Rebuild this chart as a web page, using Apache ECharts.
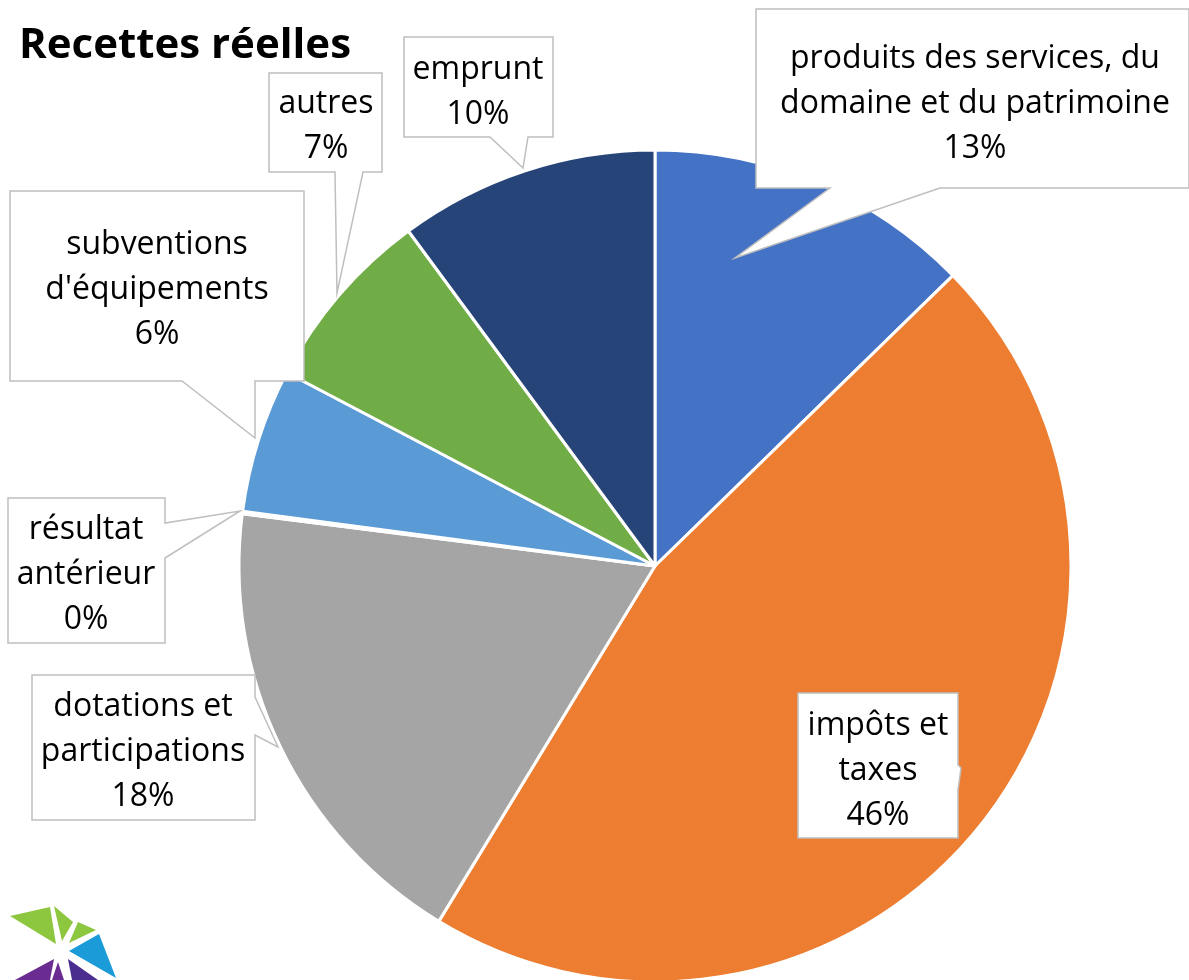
<!DOCTYPE html>
<html><head><meta charset="utf-8">
<script src="https://cdn.jsdelivr.net/npm/echarts@6/dist/echarts.min.js"></script>
<style>html,body{margin:0;padding:0;background:#fff}#c{width:1189px;height:980px}</style>
</head><body><div id="c"></div>
<script>
// ---- data ----
const categories = [
  'produits des services, du\ndomaine et du patrimoine',
  'impôts et\ntaxes',
  'dotations et\nparticipations',
  'résultat\nantérieur',
  'subventions\nd\'équipements',
  'autres',
  'emprunt'
];
const shares = [12.7, 46.0, 18.3, 0.1, 5.6, 7.2, 10.1];
const colors = ['#4472C4', '#ED7D31', '#A5A5A5', '#FFC000', '#5B9BD5', '#70AD47', '#264478'];
const titleText = 'Recettes réelles';

// ---- layout (label anchors and callout shapes) ----
const labelPos = [
  [975, 104], [878, 771], [143, 752], [86, 575], [157, 290], [326, 126], [478, 92]
];
const callouts = [
  [[756,9],[1189,9],[1189,188],[940,188],[735,258],[830,188],[756,188]],
  [[798,693],[958,693],[958,765],[961,768],[958,790],[958,838],[798,838]],
  [[32,675],[255,675],[255,697],[278,747],[255,735],[255,820],[32,820]],
  [[8,498],[165,498],[165,523],[240,511],[165,558],[165,643],[8,643]],
  [[10,191],[304,191],[304,381],[255,381],[255,438],[182,381],[10,381]],
  [[269,73],[382,73],[382,172],[363,172],[337,293],[335,172],[269,172]],
  [[404,37],[553,37],[553,137],[528,137],[523,168],[490,137],[404,137]]
];
const logo = [
  {p:[[10,916],[50,907],[56,944]], c:'#8DC63F'},
  {p:[[54,906],[73,922],[62,941]], c:'#8DC63F'},
  {p:[[78,922],[96,930],[69,943]], c:'#8DC63F'},
  {p:[[99,934],[116,978],[69,951]], c:'#1B9BD7'},
  {p:[[15,980],[54,959],[50,980]], c:'#6A2C91'},
  {p:[[58,962],[64,980],[52,980]], c:'#6A2C91'},
  {p:[[68,959],[98,980],[72,980]], c:'#4B2D8F'}
];

const pieData = categories.map((n, i) => ({ name: n, value: shares[i], itemStyle: { color: colors[i] } }));
const font = 'Open Sans, Liberation Sans, sans-serif';

const graphics = [];
callouts.forEach(pts => graphics.push({
  type: 'polygon', z: 3, shape: { points: pts },
  style: { fill: '#fff', stroke: '#BFBFBF', lineWidth: 1.5 }
}));
logo.forEach(l => graphics.push({ type: 'polygon', z: 3, shape: { points: l.p }, style: { fill: l.c } }));
graphics.push({
  type: 'text', z: 5, left: 19, top: 25,
  style: { text: titleText, font: 'bold 42px ' + font, fill: '#000' }
});

const chart = echarts.init(document.getElementById('c'), null, { renderer: 'canvas' });
chart.setOption({
  backgroundColor: '#fff',
  animation: false,
  graphic: graphics,
  series: [
    {
      type: 'pie', z: 2, center: [655, 566], radius: 416, startAngle: 90, clockwise: true,
      avoidLabelOverlap: false, silent: true,
      itemStyle: { borderColor: '#fff', borderWidth: 3 },
      label: { show: false }, labelLine: { show: false },
      data: pieData
    },
    {
      type: 'pie', z: 4, center: [655, 566], radius: 416, startAngle: 90, clockwise: true,
      avoidLabelOverlap: false, silent: true,
      itemStyle: { color: 'rgba(0,0,0,0)', borderWidth: 0 },
      label: {
        show: true, position: 'outside', color: '#000', fontSize: 32, lineHeight: 45,
        fontFamily: font, align: 'center',
        formatter: p => p.name + '\n' + Math.round(p.percent) + '%'
      },
      labelLine: { show: false },
      labelLayout: p => ({ x: labelPos[p.dataIndex][0], y: labelPos[p.dataIndex][1], align: 'center', verticalAlign: 'middle' }),
      data: categories.map((n, i) => ({ name: n, value: shares[i] }))
    }
  ]
});
</script></body></html>
